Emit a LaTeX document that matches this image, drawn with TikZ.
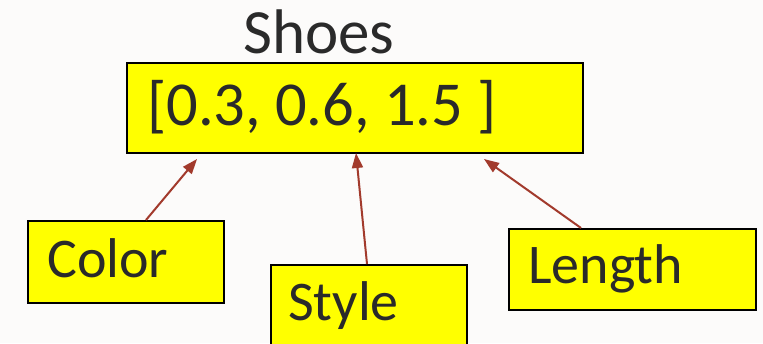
\documentclass[tikz,border=0pt]{standalone}
\usepackage{fontspec}
\setmainfont{Carlito}
\usetikzlibrary{arrows.meta}
\definecolor{bg}{HTML}{FCFBFA}
\definecolor{boxyellow}{HTML}{FFFF00}
\definecolor{arrred}{HTML}{A23A2C}
\definecolor{txt}{HTML}{2A2A2A}
\tikzset{
  box/.style={draw=black, line width=1.5pt, fill=boxyellow, inner sep=0pt, anchor=north west},
  lbl/.style={text=txt, inner sep=0pt, anchor=base west, font=\fontsize{56}{60}\selectfont},
  arr/.style={draw=arrred, line width=2pt, -{Triangle[length=15pt,width=11pt]}},
}
\begin{document}
\begin{tikzpicture}[x=1pt,y=-1pt]
\useasboundingbox (0,0) rectangle (763,343);
\fill[bg] (0,0) rectangle (763,343);
\clip (0,0) rectangle (763,343);
% title
\node[lbl, font=\fontsize{63}{66}\selectfont] (title) at (243,53) {Shoes};
% main box
\node[box, minimum width=456pt, minimum height=90pt] (vec) at (126,62) {};
\node[lbl, font=\fontsize{62.5}{66}\selectfont] (vectxt) at (147,125) {[0.3, 0.6, 1.5 ]};
% feature boxes
\node[box, minimum width=196pt, minimum height=82pt] (color) at (27,220) {};
\node[lbl] (colortxt) at (47,277) {Color};
\node[box, minimum width=196pt, minimum height=100pt] (style) at (270,264) {};
\node[lbl] (styletxt) at (288,320) {Style};
\node[box, minimum width=247pt, minimum height=81pt] (length) at (508,228) {};
\node[lbl] (lengthtxt) at (528,283) {Length};
% arrow ends
\coordinate (t1) at (197,159);
\coordinate (t2) at (356,153);
\coordinate (t3) at (484,159);
\coordinate (s1) at (146,220);
\coordinate (s2) at (367,264);
\coordinate (s3) at (581,228);
\draw[arr] (s1) -- (t1);
\draw[arr] (s2) -- (t2);
\draw[arr] (s3) -- (t3);
\end{tikzpicture}
\end{document}
